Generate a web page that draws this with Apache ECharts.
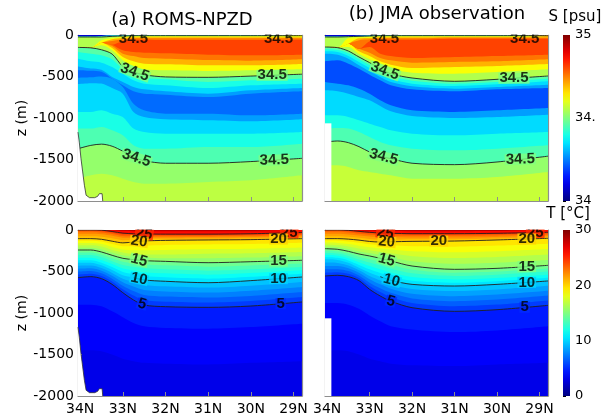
<!DOCTYPE html>
<html>
<head>
<meta charset="utf-8">
<script src="https://cdn.jsdelivr.net/npm/echarts@6/dist/echarts.min.js"></script>
<style>
  html, body { margin: 0; padding: 0; background: #fff; }
  #chart { width: 611px; height: 420px; }
</style>
</head>
<body>
<div id="chart"></div>
<script>
// ---- Section stations (degrees N, west/north end first) ----
const LAT = [34.05, 33.75, 33.5, 33.25, 33.0, 32.75, 32.5, 32.0, 31.0, 30.0, 28.8];
const LAT_TICKS = [34, 33, 32, 31, 30, 29];
const S_RANGE = [34, 35];
const T_RANGE = [0, 30];
const S_CBAR_TICKS = [34, 34.5, 35];
const T_CBAR_TICKS = [0, 10, 20, 30];

// ---- Salinity: water-layer interfaces (m), top to bottom, and the salinity of the layer above each ----
const S_MODEL_VALUES = [34.08, 34.42, 34.55, 34.62, 34.70, 34.76, 34.81, 34.76, 34.70, 34.62, 34.55,
                        34.46, 34.40, 34.34, 34.28, 34.23, 34.28, 34.34, 34.40, 34.45, 34.52];
const S_MODEL_BOTTOM = 34.56;
const S_MODEL_Z = [
  [-16, -16, -12, -4, -2, 0, 0, 0, 0, 0, 0],
  [-24, -24, -24, -16, -12, -8, -8, -8, -8, -8, -8],
  [-145, -149, -64, -36, -24, -16, -16, -16, -16, -16, -16],
  [-145, -149, -92, -52, -36, -28, -28, -28, -28, -28, -28],
  [-145, -149, -92, -72, -52, -40, -40, -40, -40, -40, -40],
  [-145, -149, -92, -116, -72, -56, -56, -60, -60, -60, -56],
  [-145, -149, -92, -116, -185, -205, -213, -221, -237, -245, -237],
  [-145, -149, -92, -133, -225, -253, -277, -285, -301, -309, -293],
  [-145, -149, -92, -157, -265, -317, -345, -353, -365, -365, -349],
  [-145, -149, -124, -185, -305, -373, -414, -426, -434, -426, -414],
  [-150, -155, -178, -230, -380, -445, -480, -505, -510, -495, -472],
  [-205, -225, -245, -293, -414, -486, -518, -534, -566, -546, -526],
  [-285, -317, -333, -386, -466, -546, -586, -606, -639, -606, -586],
  [-380, -405, -420, -506, -566, -626, -655, -679, -707, -667, -639],
  [-425, -432, -442, -526, -606, -679, -707, -719, -747, -707, -679],
  [-515, -510, -500, -526, -626, -827, -908, -948, -948, -968, -948],
  [-590, -580, -585, -640, -707, -928, -988, -1016, -1028, -1040, -1016],
  [-928, -928, -908, -948, -988, -1128, -1169, -1189, -1189, -1189, -1169],
  [-1128, -1128, -1108, -1149, -1209, -1329, -1369, -1369, -1349, -1349, -1309],
  [-1370, -1330, -1315, -1340, -1400, -1470, -1515, -1545, -1545, -1525, -1486],
  [-1731, -1691, -1671, -1691, -1731, -1771, -1791, -1791, -1771, -1751, -1691]
];

const S_OBS_VALUES = [34.08, 34.42, 34.55, 34.62, 34.70, 34.76, 34.81, 34.76, 34.70, 34.62, 34.55,
                      34.46, 34.40, 34.34, 34.28, 34.20, 34.28, 34.34, 34.40, 34.45, 34.52];
const S_OBS_BOTTOM = 34.57;
const S_OBS_Z = [
  [-16, -16, -12, -8, -4, 0, 0, 0, 0, 0, 0],
  [-24, -24, -20, -16, -12, -8, -8, -8, -8, -8, -8],
  [-141, -149, -36, -28, -24, -16, -16, -16, -16, -16, -16],
  [-141, -149, -104, -40, -36, -28, -28, -28, -24, -24, -24],
  [-141, -149, -104, -64, -52, -40, -40, -40, -32, -32, -32],
  [-141, -149, -104, -165, -76, -56, -56, -56, -44, -44, -44],
  [-141, -149, -104, -165, -145, -225, -253, -277, -265, -253, -237],
  [-141, -149, -104, -165, -213, -277, -305, -333, -325, -317, -293],
  [-141, -149, -104, -197, -253, -317, -357, -398, -386, -373, -349],
  [-141, -149, -145, -229, -293, -357, -406, -454, -466, -446, -414],
  [-145, -153, -193, -265, -333, -406, -466, -518, -558, -534, -494],
  [-173, -181, -221, -293, -365, -438, -498, -550, -586, -566, -526],
  [-197, -205, -253, -325, -398, -470, -534, -586, -614, -594, -558],
  [-225, -237, -285, -365, -438, -506, -566, -618, -647, -626, -598],
  [-317, -305, -345, -406, -478, -546, -606, -655, -679, -655, -639],
  [-566, -586, -606, -647, -707, -787, -847, -908, -928, -908, -880],
  [-667, -679, -707, -747, -787, -855, -920, -976, -1000, -988, -960],
  [-968, -968, -988, -1028, -1068, -1108, -1149, -1189, -1209, -1189, -1169],
  [-1128, -1120, -1128, -1169, -1229, -1289, -1329, -1369, -1390, -1369, -1329],
  [-1290, -1277, -1297, -1345, -1410, -1460, -1490, -1545, -1562, -1530, -1460],
  [-1570, -1570, -1590, -1630, -1651, -1671, -1691, -1731, -1731, -1711, -1651]
];
// interfaces that are the 34.5 isohaline
const S_CONTOURS = [1, 10, 19];
const S_CONTOUR_VALUE = 34.5;

// ---- Temperature: isotherm depths (m) ----
const T_LEVELS = [27, 25, 24, 23, 22, 21, 20, 19, 18, 17, 16, 15, 14, 13, 12, 11, 10, 9, 8, 7, 6, 5, 4, 3];
const T_SURFACE = 28.2;
const T_DEEP = [4.5, 3.7];   // shading of the two deepest layers above the bottom water
const T_BOTTOM = 3.1;
const T_MODEL_Z = [
  [0, 0, 0, -4, -10, -14, -16, -16, -16, -16, -14],
  [0, 0, -2, -18, -38, -45, -48, -50, -50, -45, -30],
  [-2, -2, -14, -32, -55, -60, -62, -64, -62, -58, -45],
  [-20, -20, -30, -48, -72, -75, -76, -76, -75, -70, -60],
  [-45, -45, -52, -70, -92, -92, -90, -90, -88, -84, -75],
  [-75, -75, -82, -100, -122, -118, -110, -106, -103, -100, -90],
  [-104, -104, -112, -135, -155, -145, -132, -125, -120, -116, -104],
  [-130, -130, -140, -170, -195, -195, -190, -180, -175, -170, -155],
  [-158, -158, -170, -205, -235, -245, -245, -240, -230, -225, -210],
  [-185, -185, -200, -240, -270, -290, -295, -295, -285, -280, -265],
  [-213, -213, -232, -272, -305, -325, -335, -340, -340, -332, -315],
  [-241, -241, -265, -305, -341, -357, -369, -378, -394, -382, -365],
  [-272, -272, -297, -340, -382, -400, -416, -426, -442, -428, -405],
  [-302, -302, -329, -376, -423, -444, -462, -474, -490, -473, -445],
  [-333, -333, -362, -411, -464, -487, -509, -522, -538, -519, -486],
  [-364, -364, -394, -447, -505, -531, -555, -570, -587, -564, -526],
  [-394, -394, -426, -482, -546, -574, -602, -618, -635, -610, -566],
  [-430, -428, -458, -517, -588, -628, -662, -679, -694, -671, -626],
  [-466, -461, -490, -551, -630, -682, -723, -740, -754, -732, -686],
  [-502, -495, -522, -586, -671, -735, -783, -802, -813, -794, -747],
  [-538, -528, -554, -620, -713, -789, -844, -863, -873, -855, -807],
  [-574, -562, -586, -655, -755, -843, -904, -924, -932, -916, -867],
  [-900, -900, -920, -980, -1050, -1120, -1160, -1180, -1190, -1170, -1130],
  [-1450, -1450, -1460, -1500, -1550, -1580, -1600, -1610, -1620, -1600, -1580]
];
const T_OBS_Z = [
  [0, 0, 0, -2, -6, -10, -12, -14, -14, -12, -10],
  [0, 0, -4, -16, -28, -36, -40, -44, -44, -40, -28],
  [-2, -2, -14, -28, -40, -48, -52, -56, -56, -52, -40],
  [-20, -20, -30, -44, -56, -64, -68, -70, -70, -66, -55],
  [-45, -45, -55, -66, -78, -86, -88, -90, -90, -84, -70],
  [-75, -75, -82, -94, -108, -115, -115, -112, -110, -102, -85],
  [-104, -104, -110, -122, -138, -145, -142, -137, -133, -120, -100],
  [-128, -130, -139, -155, -173, -184, -188, -196, -201, -188, -165],
  [-152, -156, -169, -189, -208, -223, -234, -256, -269, -257, -230],
  [-177, -181, -198, -222, -243, -263, -281, -315, -337, -325, -296],
  [-201, -207, -228, -256, -278, -302, -327, -375, -406, -394, -361],
  [-225, -233, -257, -289, -313, -341, -373, -434, -474, -462, -426],
  [-251, -259, -284, -322, -353, -385, -420, -478, -514, -501, -464],
  [-276, -284, -312, -355, -393, -429, -466, -522, -554, -539, -501],
  [-302, -310, -339, -388, -434, -474, -513, -566, -595, -578, -539],
  [-327, -335, -367, -421, -474, -518, -559, -611, -635, -616, -576],
  [-353, -361, -394, -454, -514, -562, -606, -655, -675, -655, -614],
  [-393, -398, -428, -485, -554, -609, -656, -711, -736, -716, -673],
  [-433, -435, -461, -516, -594, -655, -707, -767, -797, -777, -732],
  [-474, -472, -495, -548, -635, -702, -757, -824, -858, -838, -790],
  [-514, -509, -528, -579, -675, -748, -808, -880, -919, -899, -849],
  [-554, -546, -562, -610, -715, -795, -858, -936, -980, -960, -908],
  [-880, -880, -900, -950, -1030, -1100, -1160, -1200, -1230, -1210, -1160],
  [-1450, -1450, -1460, -1500, -1550, -1580, -1610, -1630, -1640, -1620, -1600]
];
// labelled isotherms: 25, 20, 15, 10, 5
const T_CONTOURS = [1, 6, 11, 16, 21];

// ---- Bottom topography of the model section, and the missing cast of the observations ----
const TOPO_LAT = [34.05, 34.02, 33.98, 33.94, 33.9, 33.86, 33.78, 33.66, 33.59, 33.55, 33.51, 33.485, 33.47];
const TOPO_Z = [-1170, -1290, -1490, -1650, -1810, -1930, -1960, -1960, -1944, -1912, -1892, -1912, -2000];
const OBS_GAP_LAT = [34.06, 33.9, 33.9];
const OBS_GAP_Z = [-1064, -1064, -2000];

// ---- Contour label placement: [line index, latitude, rotation, vertical nudge] ----
const S_MODEL_LABELS = [[1, 32.75, 0, 3], [1, 29.35, 0, 3], [10, 32.72, -20, 0], [10, 29.5, 0, 0], [19, 32.68, -18, 0], [19, 29.45, 2, 0]];
const S_OBS_LABELS = [[1, 32.65, 0, 3], [1, 29.35, 0, 3], [10, 32.64, -20, 0], [10, 29.6, 0, 0], [19, 32.67, -15, 0], [19, 29.45, 2, 0]];
const T_MODEL_LABELS = [[1, 32.5, -8, 0], [1, 29.1, 0, 0], [6, 32.62, -8, 0], [6, 29.35, 0, 0], [11, 32.62, -15, 0], [11, 29.35, 0, 0],
                        [16, 32.62, -12, 0], [16, 29.35, 0, 0], [21, 32.55, -15, 0], [21, 29.3, 0, 0]];
const T_OBS_LABELS = [[1, 32.63, -8, 0], [1, 29.1, 0, 0], [6, 32.6, -5, 0], [6, 31.37, 0, 0], [6, 29.3, 0, 0], [11, 32.6, -15, 0], [11, 29.3, 0, 0],
                      [16, 32.48, -15, 0], [16, 29.3, 0, 0], [21, 32.5, -15, 0], [21, 29.35, 0, 0]];
// the 10-degree isotherm is only traced from this latitude southward
const T10_TRACE_FROM = 32.75;

// ---- drawing ----
const FONT = 'DejaVu Sans';
const PH = 166;
const X_MIN = 28.8, X_MAX = 34.05;

function jet(t) {
  const c = x => Math.round(255 * Math.max(0, Math.min(1, x)));
  return 'rgb(' + c(1.5 - Math.abs(4 * t - 3)) + ',' + c(1.5 - Math.abs(4 * t - 2)) + ',' + c(1.5 - Math.abs(4 * t - 1)) + ')';
}
const sColor = v => jet((v - S_RANGE[0]) / (S_RANGE[1] - S_RANGE[0]));
const tColor = v => jet((v - T_RANGE[0]) / (T_RANGE[1] - T_RANGE[0]));

function depthAt(z, lat) {
  for (let i = 0; i < LAT.length - 1; i++) {
    const a = LAT[i], b = LAT[i + 1];
    if (lat <= a && lat >= b) {
      const f = (a - lat) / (a - b);
      return z[i] + f * (z[i + 1] - z[i]);
    }
  }
  return z[z.length - 1];
}
const pts = z => LAT.map((la, i) => [la, z[i]]);

const nT = T_LEVELS.length;
const tBandValues = T_LEVELS.map((L, k) => {
  if (k === 0) return T_SURFACE;
  if (k === nT - 2) return T_DEEP[0];
  if (k === nT - 1) return T_DEEP[1];
  return (T_LEVELS[k - 1] + L) / 2;
});

const PANELS = [
  { left: 78, top: 35, width: 224, zs: S_MODEL_Z, vals: S_MODEL_VALUES, bottom: S_MODEL_BOTTOM, color: sColor,
    contours: S_CONTOURS, labels: S_MODEL_LABELS, level: () => S_CONTOUR_VALUE, text: () => '34.5', mask: 'topo', xl: false, yl: true, temp: false },
  { left: 325, top: 35, width: 223, zs: S_OBS_Z, vals: S_OBS_VALUES, bottom: S_OBS_BOTTOM, color: sColor,
    contours: S_CONTOURS, labels: S_OBS_LABELS, level: () => S_CONTOUR_VALUE, text: () => '34.5', mask: 'gap', xl: false, yl: false, temp: false },
  { left: 78, top: 230, width: 224, zs: T_MODEL_Z, vals: tBandValues, bottom: T_BOTTOM, color: tColor,
    contours: T_CONTOURS, labels: T_MODEL_LABELS, level: k => T_LEVELS[k], text: k => String(T_LEVELS[k]), mask: 'topo', xl: true, yl: true, temp: true },
  { left: 325, top: 230, width: 223, zs: T_OBS_Z, vals: tBandValues, bottom: T_BOTTOM, color: tColor,
    contours: T_CONTOURS, labels: T_OBS_LABELS, level: k => T_LEVELS[k], text: k => String(T_LEVELS[k]), mask: 'gap', xl: true, yl: false, temp: true }
];

const grids = [], xAxes = [], yAxes = [], series = [];
const frameLine = { show: true, onZero: false, lineStyle: { color: '#8e8e8e', width: 1.2 } };
const tickStyle = { show: true, inside: true, length: 4, lineStyle: { color: '#8e8e8e', width: 1 } };
const tickText = { fontSize: 14, color: '#000', fontFamily: FONT };

PANELS.forEach((p, pi) => {
  grids.push({ left: p.left, top: p.top, width: p.width, height: PH, show: true,
               backgroundColor: p.color(p.bottom), borderWidth: 0 });
  const xa = 2 * pi, ya = 2 * pi;
  xAxes.push({ gridIndex: pi, type: 'value', min: X_MIN, max: X_MAX, inverse: true, position: 'bottom',
    axisLine: frameLine, splitLine: { show: false },
    axisTick: Object.assign({}, tickStyle, { customValues: LAT_TICKS }),
    axisLabel: Object.assign({ show: p.xl, customValues: LAT_TICKS, formatter: v => v + 'N', margin: 6 }, tickText) });
  xAxes.push({ gridIndex: pi, type: 'value', min: X_MIN, max: X_MAX, inverse: true, position: 'top',
    axisLine: frameLine, splitLine: { show: false },
    axisTick: Object.assign({}, tickStyle, { customValues: LAT_TICKS }), axisLabel: { show: false } });
  yAxes.push({ gridIndex: pi, type: 'value', min: -2000, max: 0, interval: 500, position: 'left',
    axisLine: frameLine, splitLine: { show: false }, axisTick: tickStyle,
    axisLabel: Object.assign({ show: p.yl, margin: 4, showMinLabel: true, showMaxLabel: true,
                               formatter: v => String(v) }, tickText) });
  yAxes.push({ gridIndex: pi, type: 'value', min: -2000, max: 0, interval: 500, position: 'right',
    axisLine: frameLine, splitLine: { show: false }, axisTick: tickStyle, axisLabel: { show: false } });

  // filled bands: each interface shades everything above it, deepest first
  for (let k = p.zs.length - 1; k >= 0; k--) {
    series.push({ type: 'line', xAxisIndex: xa, yAxisIndex: ya, data: pts(p.zs[k]),
      smooth: 0.3, symbol: 'none', silent: true, z: 1,
      lineStyle: { width: 0 },
      areaStyle: { color: p.color(p.vals[k]), opacity: 1, origin: 'end' } });
  }
  // contour lines
  p.contours.forEach(k => {
    let d = pts(p.zs[k]);
    if (p.temp && T_LEVELS[k] === 10) d = d.filter(q => q[0] <= T10_TRACE_FROM);
    series.push({ type: 'line', xAxisIndex: xa, yAxisIndex: ya, data: d, smooth: 0.3, symbol: 'none',
      silent: true, z: 3, lineStyle: { color: '#202020', width: 0.9 } });
  });
  // land / missing data
  if (p.mask === 'topo') {
    series.push({ type: 'line', xAxisIndex: xa, yAxisIndex: ya, data: TOPO_LAT.map((la, i) => [la, TOPO_Z[i]]),
      symbol: 'none', silent: true, z: 4, lineStyle: { color: '#333', width: 0.8 },
      areaStyle: { color: '#fff', opacity: 1, origin: 'start' } });
  } else {
    series.push({ type: 'line', xAxisIndex: xa, yAxisIndex: ya, data: OBS_GAP_LAT.map((la, i) => [la, OBS_GAP_Z[i]]),
      symbol: 'none', silent: true, z: 4, lineStyle: { width: 0 },
      areaStyle: { color: '#fff', opacity: 1, origin: 'start' } });
  }
  // contour labels, on a patch of the contour's own colour so the line breaks under them
  series.push({ type: 'scatter', xAxisIndex: xa, yAxisIndex: ya, symbolSize: 1, silent: true, z: 5,
    itemStyle: { color: 'rgba(0,0,0,0)' },
    label: { show: true, position: 'inside', color: '#000', fontSize: 15, fontWeight: 'bold', fontFamily: 'Liberation Sans' },
    data: p.labels.map(([k, lat, rot, dy]) => ({
      value: [lat, depthAt(p.zs[k], lat)],
      label: { show: true, formatter: p.text(k), rotate: rot, offset: [0, dy], color: '#000',
               backgroundColor: dy ? 'transparent' : p.color(p.level(k)), padding: [0, 1], lineHeight: 11 }
    })) });
});

// colour bars
const stops = [];
for (let i = 20; i >= 0; i--) stops.push({ offset: 1 - i / 20, color: jet(i / 20) });
[[S_RANGE, S_CBAR_TICKS, 35, v => (v === 34.5 ? '34.' : String(v))],
 [T_RANGE, T_CBAR_TICKS, 230, v => String(v)]].forEach(([range, ticks, top, fmt], ci) => {
  const gi = 4 + ci;
  grids.push({ left: 563, top: top, width: 7, height: PH });
  xAxes.push({ gridIndex: gi, type: 'value', min: 0, max: 1, show: false });
  yAxes.push({ gridIndex: gi, type: 'value', min: range[0], max: range[1], position: 'right',
    axisLine: { show: false }, splitLine: { show: false },
    axisTick: { show: true, length: 3, customValues: ticks, lineStyle: { color: '#000' } },
    axisLabel: { customValues: ticks, formatter: fmt, fontSize: 13, color: '#000', margin: 5, fontFamily: FONT,
                 showMinLabel: true, showMaxLabel: true } });
  series.push({ type: 'custom', xAxisIndex: gi + 4, yAxisIndex: gi + 4, silent: true,
    data: [[0, range[0], range[1]]],
    renderItem: (params, api) => {
      const a = api.coord([0, api.value(2)]);
      const b = api.coord([1, api.value(1)]);
      return { type: 'rect', shape: { x: a[0], y: a[1], width: b[0] - a[0], height: b[1] - a[1] },
               style: { fill: new echarts.graphic.LinearGradient(0, 0, 0, 1, stops) } };
    } });
});

const txt = (x, y, s, size, rot) => ({ type: 'text', x: x, y: y, rotation: rot || 0, z: 60,
  style: { text: s, font: size + 'px "' + FONT + '"', fill: '#000', textAlign: 'center', textVerticalAlign: 'middle' } });

const chart = echarts.init(document.getElementById('chart'), null, { renderer: 'canvas' });
chart.setOption({
  animation: false,
  backgroundColor: '#fff',
  grid: grids, xAxis: xAxes, yAxis: yAxes, series: series,
  graphic: [
    // keeps contour labels inside the panel tops
    { type: 'rect', z: 50, silent: true, shape: { x: 74, y: 24, width: 232, height: 10.5 }, style: { fill: '#fff' } },
    { type: 'rect', z: 50, silent: true, shape: { x: 321, y: 24, width: 231, height: 10.5 }, style: { fill: '#fff' } },
    { type: 'rect', z: 50, silent: true, shape: { x: 74, y: 221, width: 232, height: 8.5 }, style: { fill: '#fff' } },
    { type: 'rect', z: 50, silent: true, shape: { x: 321, y: 221, width: 224, height: 8.5 }, style: { fill: '#fff' } },
    txt(182, 20, '(a) ROMS-NPZD', 18),
    txt(437, 14, '(b) JMA observation', 18),
    txt(575, 17, 'S [psu]', 15),
    txt(568, 214, 'T [°C]', 15),
    txt(22, 118, 'z (m)', 14, Math.PI / 2),
    txt(22, 313, 'z (m)', 14, Math.PI / 2)
  ]
});
</script>
</body>
</html>
